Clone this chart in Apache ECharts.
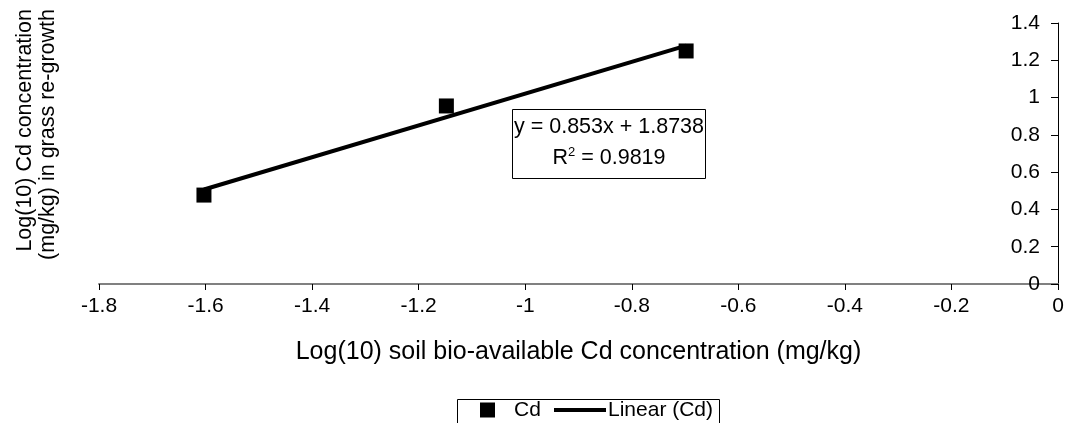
<!DOCTYPE html>
<html>
<head>
<meta charset="utf-8">
<script src="https://cdn.jsdelivr.net/npm/echarts@6/dist/echarts.min.js"></script>
<style>
html,body{margin:0;padding:0;background:#fff;}
#c{width:1067px;height:423px;}
</style>
</head>
<body>
<div id="c"></div>
<script>
// Data
var cdX = [-1.603, -1.148, -0.698];
var cdY = [0.477, 0.955, 1.25];
var trendX = [-1.603, -0.698];
var trendY = [0.507, 1.279];
var equationText = 'y = 0.853x + 1.8738';
var r2Text = 'R{sup|2} = 0.9819';
var xTitle = 'Log(10) soil bio-available Cd concentration (mg/kg)';
var yTitle = 'Log(10) Cd concentration\n(mg/kg) in grass re-growth';

var FONT = '"Liberation Sans", Arial, sans-serif';
var FS = 21;

var chart = echarts.init(document.getElementById('c'), null, {renderer: 'canvas'});
chart.setOption({
  animation: false,
  backgroundColor: '#fff',
  textStyle: {fontFamily: FONT, color: '#000'},
  grid: {left: 99, right: 9, top: 23, bottom: 139, containLabel: false},
  xAxis: {
    type: 'value', min: -1.8, max: 0, interval: 0.2,
    name: xTitle, nameLocation: 'middle', nameGap: 56,
    nameTextStyle: {fontFamily: FONT, fontSize: 25, color: '#000', verticalAlign: 'top'},
    axisLine: {show: true, onZero: false, lineStyle: {color: '#808080', width: 2}},
    axisTick: {show: true, length: 6, lineStyle: {color: '#000', width: 1}},
    axisLabel: {fontFamily: FONT, fontSize: FS, color: '#000', margin: 12},
    splitLine: {show: false}
  },
  yAxis: {
    type: 'value', min: 0, max: 1.4, interval: 0.2, position: 'right',
    axisLine: {show: true, lineStyle: {color: '#000', width: 1}},
    axisTick: {show: true, inside: true, length: 7, lineStyle: {color: '#000', width: 1}},
    axisLabel: {inside: true, fontFamily: FONT, fontSize: FS, color: '#000', margin: 18},
    splitLine: {show: false}
  },
  legend: [{
    data: [{name: 'Cd', icon: 'rect'}],
    left: 480, top: 399.5, itemWidth: 15, itemHeight: 15, itemGap: 0,
    padding: 0,
    textStyle: {fontFamily: FONT, fontSize: FS, color: '#000', padding: [0,0,0,14]}
  }, {
    data: [{name: 'Linear (Cd)', icon: 'rect'}],
    left: 554, top: 399.5, itemWidth: 52, itemHeight: 4, itemGap: 0,
    padding: 0,
    textStyle: {fontFamily: FONT, fontSize: FS, color: '#000', padding: [0,0,0,-3]}
  }],
  graphic: [
    {type: 'rect', left: 455, top: 397, shape: {width: 262, height: 25}, style: {fill: 'none', stroke: '#000', lineWidth: 1}, z: 10},
    {type: 'rect', left: 512, top: 109, shape: {width: 193, height: 69}, style: {fill: '#fff', stroke: '#000', lineWidth: 1}, z: 10},
    {type: 'text', x: 609, y: 127, z: 11, style: {text: equationText, font: '21.5px ' + FONT, fill: '#000', align: 'center', verticalAlign: 'middle'}},
    {type: 'text', x: 609, y: 158, z: 11, style: {text: r2Text, font: '21.5px ' + FONT, fill: '#000', align: 'center', verticalAlign: 'middle',
      rich: {sup: {fontSize: 13, verticalAlign: 'top', padding: [0,0,11,0], fontFamily: FONT}}}},
    {type: 'text', x: 37, y: 9, rotation: Math.PI / 2, z: 11,
      style: {text: yTitle, font: '21.5px ' + FONT, fill: '#000', align: 'right', verticalAlign: 'middle', lineHeight: 23}}
  ],
  series: [{
    name: 'Linear (Cd)', type: 'line', data: trendX.map(function (x, i) { return [x, trendY[i]]; }),
    showSymbol: false, symbol: 'none', lineStyle: {color: '#000', width: 4}, itemStyle: {color: '#000'}, z: 2
  }, {
    name: 'Cd', type: 'scatter', data: cdX.map(function (x, i) { return [x, cdY[i]]; }),
    symbol: 'rect', symbolSize: 15, itemStyle: {color: '#000', opacity: 1}, z: 3
  }]
});
</script>
</body>
</html>
